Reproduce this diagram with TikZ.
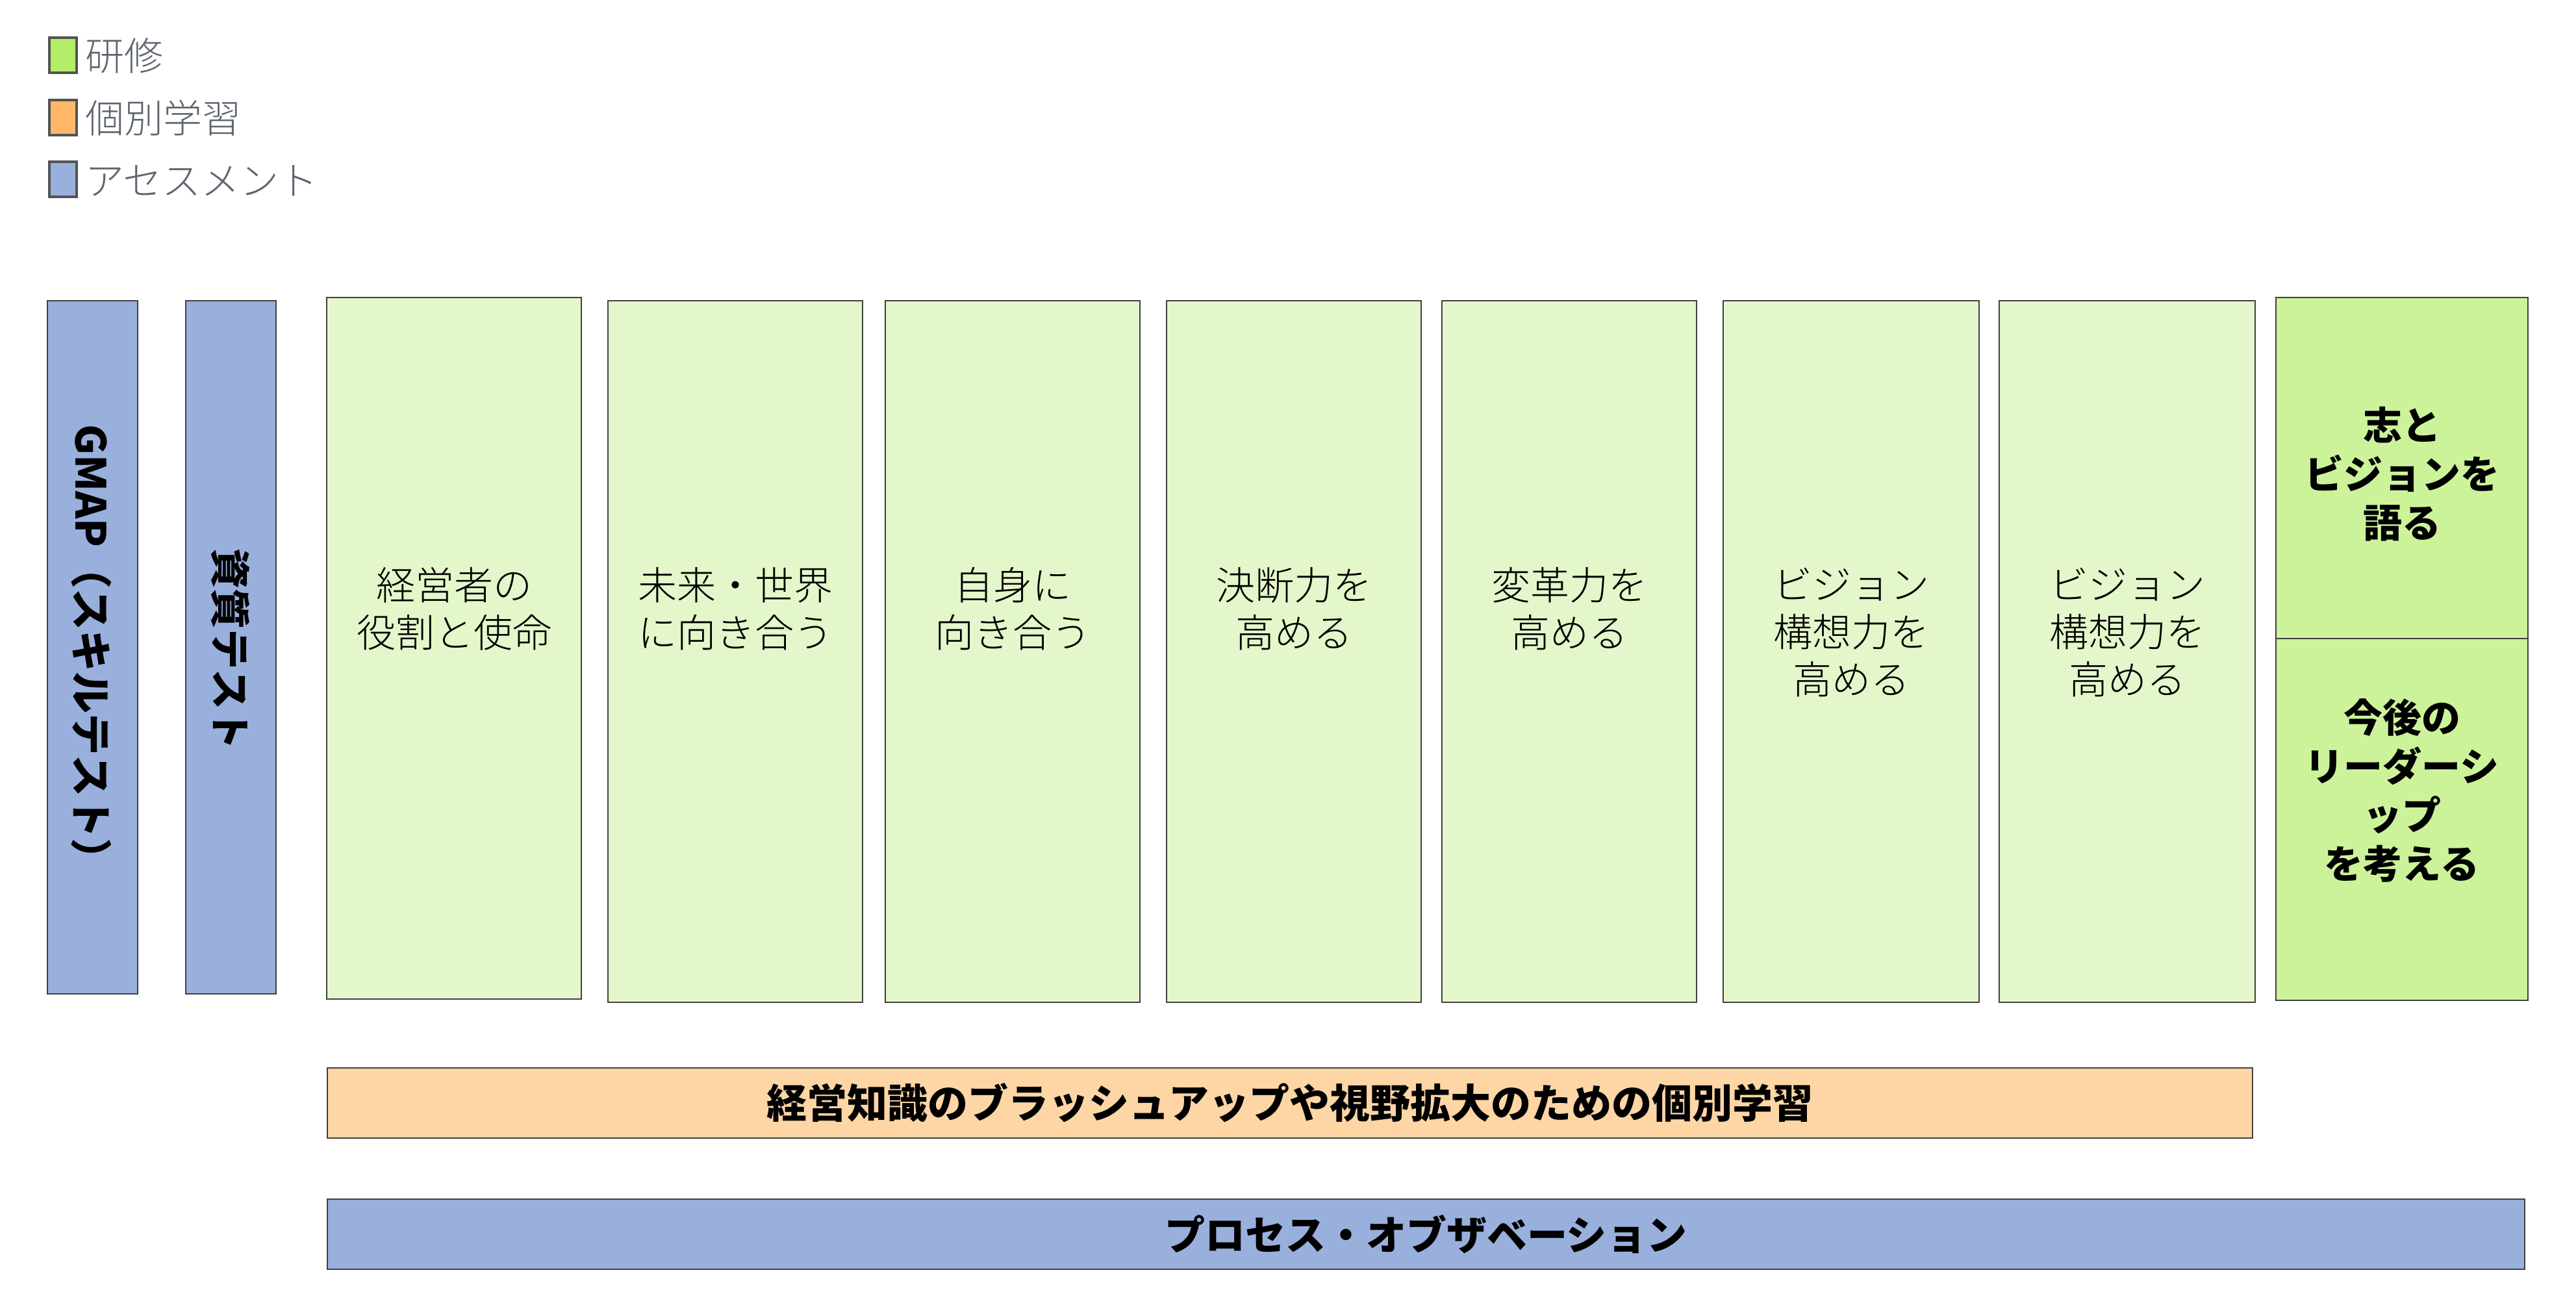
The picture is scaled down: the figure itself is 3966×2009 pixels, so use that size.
\documentclass[tikz,border=0pt]{standalone}
\usepackage{fontspec}
\setmainfont{Noto Sans CJK JP}
\newfontfamily\lightcjk{Noto Sans CJK JP Light}
\definecolor{bordergray}{HTML}{404040}
\definecolor{lightgreen}{HTML}{E4F7CB}
\definecolor{brightgreen}{HTML}{CCF39A}
\definecolor{leggreen}{HTML}{B3EE66}
\definecolor{legorange}{HTML}{FFB868}
\definecolor{barorange}{HTML}{FED6A5}
\definecolor{assessblue}{HTML}{99B0DD}
\definecolor{legtext}{HTML}{5F6670}
\begin{document}
\begin{tikzpicture}[x=1pt,y=-1pt,
  every node/.style={inner sep=0pt, outer sep=0pt},
  cell/.style={draw=bordergray, line width=2.5pt, anchor=north west},
  legbox/.style={draw=bordergray!90, line width=4.5pt, anchor=north west, minimum width=42pt, minimum height=54pt},
  legtxt/.style={anchor=west, text=legtext, font=\lightcjk\fontsize{60}{72}\selectfont},
  boxtxt/.style={align=center, text=black, font=\lightcjk\fontsize{60}{73}\selectfont},
  boldtxt/.style={align=center, text=black, font=\bfseries\fontsize{60}{75}\selectfont},
  bartxt/.style={text=black, font=\bfseries\fontsize{62}{75}\selectfont}
]
\useasboundingbox (0,0) rectangle (3966,2009);

% legend
\node[legbox, fill=leggreen] (lg1) at (76,58) {};
\node[legbox, fill=legorange] (lg2) at (76,154) {};
\node[legbox, fill=assessblue] (lg3) at (76,249) {};
\node[legtxt] (lt1) at (131,86) {研修};
\node[legtxt] (lt2) at (131,182) {個別学習};
\node[legtxt] (lt3) at (131,278) {アセスメント};

% assessment columns
\node[cell, fill=assessblue, minimum width=139pt, minimum height=1067pt] (gmap) at (73,463) {};
\node[cell, fill=assessblue, minimum width=139pt, minimum height=1067pt] (shishitsu) at (286,463) {};
\node[bartxt, rotate=-90, font=\bfseries\fontsize{64}{75}\selectfont] (gmapt) at (141,1004) {GMAP（スキルテスト）};
\node[bartxt, rotate=-90] (shishitsut) at (355,999) {資質テスト};

% training columns
\node[cell, fill=lightgreen, minimum width=392pt, minimum height=1080pt] (b1) at (503,458) {};
\node[cell, fill=lightgreen, minimum width=392pt, minimum height=1080pt] (b2) at (936,463) {};
\node[cell, fill=lightgreen, minimum width=392pt, minimum height=1080pt] (b3) at (1363,463) {};
\node[cell, fill=lightgreen, minimum width=392pt, minimum height=1080pt] (b4) at (1796,463) {};
\node[cell, fill=lightgreen, minimum width=392pt, minimum height=1080pt] (b5) at (2220,463) {};
\node[cell, fill=lightgreen, minimum width=394pt, minimum height=1080pt] (b6) at (2653,463) {};
\node[cell, fill=lightgreen, minimum width=394pt, minimum height=1080pt] (b7) at (3078,463) {};

\node[boxtxt] (t1) at (699,937) {経営者の\\役割と使命};
\node[boxtxt] (t2) at (1132,937) {未来・世界\\に向き合う};
\node[boxtxt] (t3) at (1559,937) {自身に\\向き合う};
\node[boxtxt] (t4) at (1992,937) {決断力を\\高める};
\node[boxtxt] (t5) at (2416,937) {変革力を\\高める};
\node[boxtxt] (t6) at (2850,974) {ビジョン\\構想力を\\高める};
\node[boxtxt] (t7) at (3275,974) {ビジョン\\構想力を\\高める};

% right column
\node[cell, fill=brightgreen, minimum width=388pt, minimum height=525pt] (b8a) at (3504,458) {};
\node[cell, fill=brightgreen, minimum width=388pt, minimum height=557pt] (b8b) at (3504,983) {};
\node[boldtxt] (t8a) at (3698,730) {志と\\ビジョンを\\語る};
\node[boldtxt] (t8b) at (3698,1217) {今後の\\リーダーシ\\ップ\\を考える};

% bars
\node[cell, fill=barorange, minimum width=2964pt, minimum height=108pt] (bar1) at (504,1644) {};
\node[bartxt] (bar1t) at (bar1.center) {経営知識のブラッシュアップや視野拡大のための個別学習};
\node[cell, fill=assessblue, minimum width=3383pt, minimum height=108pt] (bar2) at (504,1846) {};
\node[bartxt] (bar2t) at (bar2.center) {プロセス・オブザベーション};
\end{tikzpicture}
\end{document}
